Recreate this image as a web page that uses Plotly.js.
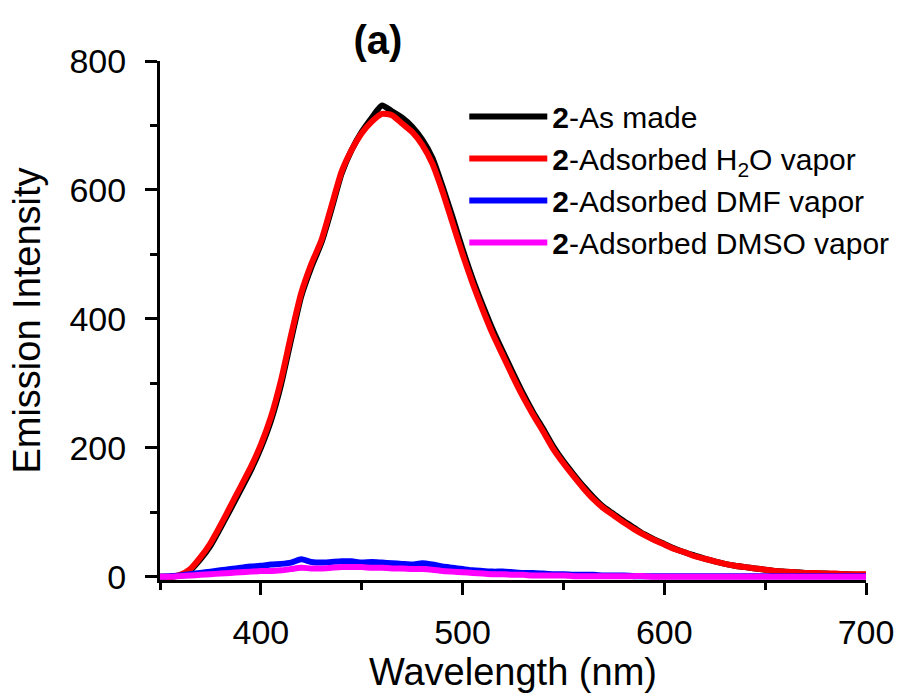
<!DOCTYPE html>
<html>
<head>
<meta charset="utf-8">
<script src="https://cdn.plot.ly/plotly-3.0.1.min.js"></script>
<style>html,body{margin:0;padding:0;background:#fff;}#chart{width:898px;height:697px;}</style>
</head>
<body>
<div id="chart"></div>
<script>
// Wavelength grid (nm)
const wavelength = [350,355,360,365,370,375,380,385,390,395,400,405,410,415,420,425,430,435,440,445,450,455,460,465,470,475,480,485,490,495,500,505,510,515,520,525,530,535,540,545,550,555,560,565,570,575,580,585,590,595,600,605,610,615,620,625,630,635,640,645,650,655,660,665,670,675,680,685,690,695,700];

const asMade = [0,0,2,10,27,48,76,105,135,165,200,242,298,368,435,480,518,570,625,662,690,712,731,722,712,698,678,650,606,558,508,462,421,383,349,316,284,255,229,202,179,159,140,123,108,97,86,76,66,58,51,44,38,33,28,24,20,17,15,13,11,9,8,7,6,5,5,4,4,3,3];

const h2o = [0,0,3,12,30,52,80,110,140,170,205,248,305,375,440,485,522,575,628,662,688,706,718,716,703,690,670,641,598,549,500,455,414,376,343,310,279,251,225,198,176,156,137,120,106,95,84,74,65,57,50,43,38,32,28,24,20,17,15,13,11,9,8,7,6,6,5,5,4,4,4];

const dmf = [0,1,2,4,6,8,10,12,14,16,17,19,20,22,27,23,22,23,24,24,22,23,22,21,20,19,21,19,16,14,12,10,9,8,8,7,6,6,5,4,4,3,3,3,2,2,2,1,1,1,1,1,1,1,1,1,1,1,1,1,1,1,1,1,1,1,1,1,1,1,1];

const dmso = [0,0,1,2,3,4,5,6,7,8,9,9,10,12,14,13,13,14,15,15,15,14,14,13,13,12,12,11,9,8,7,6,5,4,4,3,3,2,2,2,2,1,1,1,1,1,1,1,1,0,0,0,0,0,0,0,0,0,0,0,0,0,0,0,0,0,0,0,0,0,0];

const seriesNames = [
  '<b>2</b>-As made',
  '<b>2</b>-Adsorbed H<sub>2</sub>O vapor',
  '<b>2</b>-Adsorbed DMF vapor',
  '<b>2</b>-Adsorbed DMSO vapor'
];
const seriesColors = ['#000000', '#ff0000', '#0000ff', '#ff00ff'];
const seriesValues = [asMade, h2o, dmf, dmso];

const FONT = 'Liberation Sans, Arial, sans-serif';

const traces = seriesValues.map((vals, i) => ({
  x: wavelength,
  y: vals,
  type: 'scatter',
  mode: 'lines',
  name: seriesNames[i],
  legendgroup: 'g' + i,
  line: {color: seriesColors[i], width: 6, shape: 'spline', smoothing: 0.6}
}));

const layout = {
  width: 898,
  height: 697,
  paper_bgcolor: '#ffffff',
  plot_bgcolor: '#ffffff',
  margin: {l: 160, r: 32, t: 61, b: 117, autoexpand: false},
  font: {family: FONT, color: '#000', size: 34},
  title: {
    text: '<b>(a)</b>',
    font: {family: FONT, size: 40, color: '#000'},
    x: 378 / 898, xanchor: 'center',
    y: 1 - 40 / 697, yanchor: 'middle'
  },
  showlegend: true,
  legend: {
    x: 0.431, xanchor: 'left',
    y: 0.943, yanchor: 'top',
    bgcolor: 'rgba(0,0,0,0)',
    font: {family: FONT, size: 30, color: '#000'},
    traceorder: 'grouped',
    tracegroupgap: 0,
    itemwidth: 78
  },
  xaxis: {
    range: [350, 700],
    tick0: 0, dtick: 100,
    ticks: 'outside', ticklen: 12, tickwidth: 3, tickcolor: '#000',
    minor: {ticks: 'outside', dtick: 50, tick0: 0, ticklen: 7, tickwidth: 3, tickcolor: '#000'},
    showline: true, linewidth: 3, linecolor: '#000',
    showgrid: false, zeroline: false,
    tickfont: {family: FONT, size: 34, color: '#000'},
    ticklabelstandoff: 8,
    title: {text: 'Wavelength (nm)', font: {family: FONT, size: 38, color: '#000'}, standoff: 5},
    automargin: false
  },
  yaxis: {
    range: [-5, 800],
    tick0: 0, dtick: 200,
    ticks: 'outside', ticklen: 12, tickwidth: 3, tickcolor: '#000',
    minor: {ticks: 'outside', dtick: 100, tick0: 0, ticklen: 7, tickwidth: 3, tickcolor: '#000'},
    showline: true, linewidth: 3, linecolor: '#000',
    showgrid: false, zeroline: false,
    tickfont: {family: FONT, size: 34, color: '#000'},
    ticklabelstandoff: 12,
    title: {text: 'Emission Intensity', font: {family: FONT, size: 38, color: '#000'}, standoff: 18},
    automargin: false
  }
};

Plotly.newPlot('chart', traces, layout, {displayModeBar: false, staticPlot: true});
</script>
</body>
</html>
